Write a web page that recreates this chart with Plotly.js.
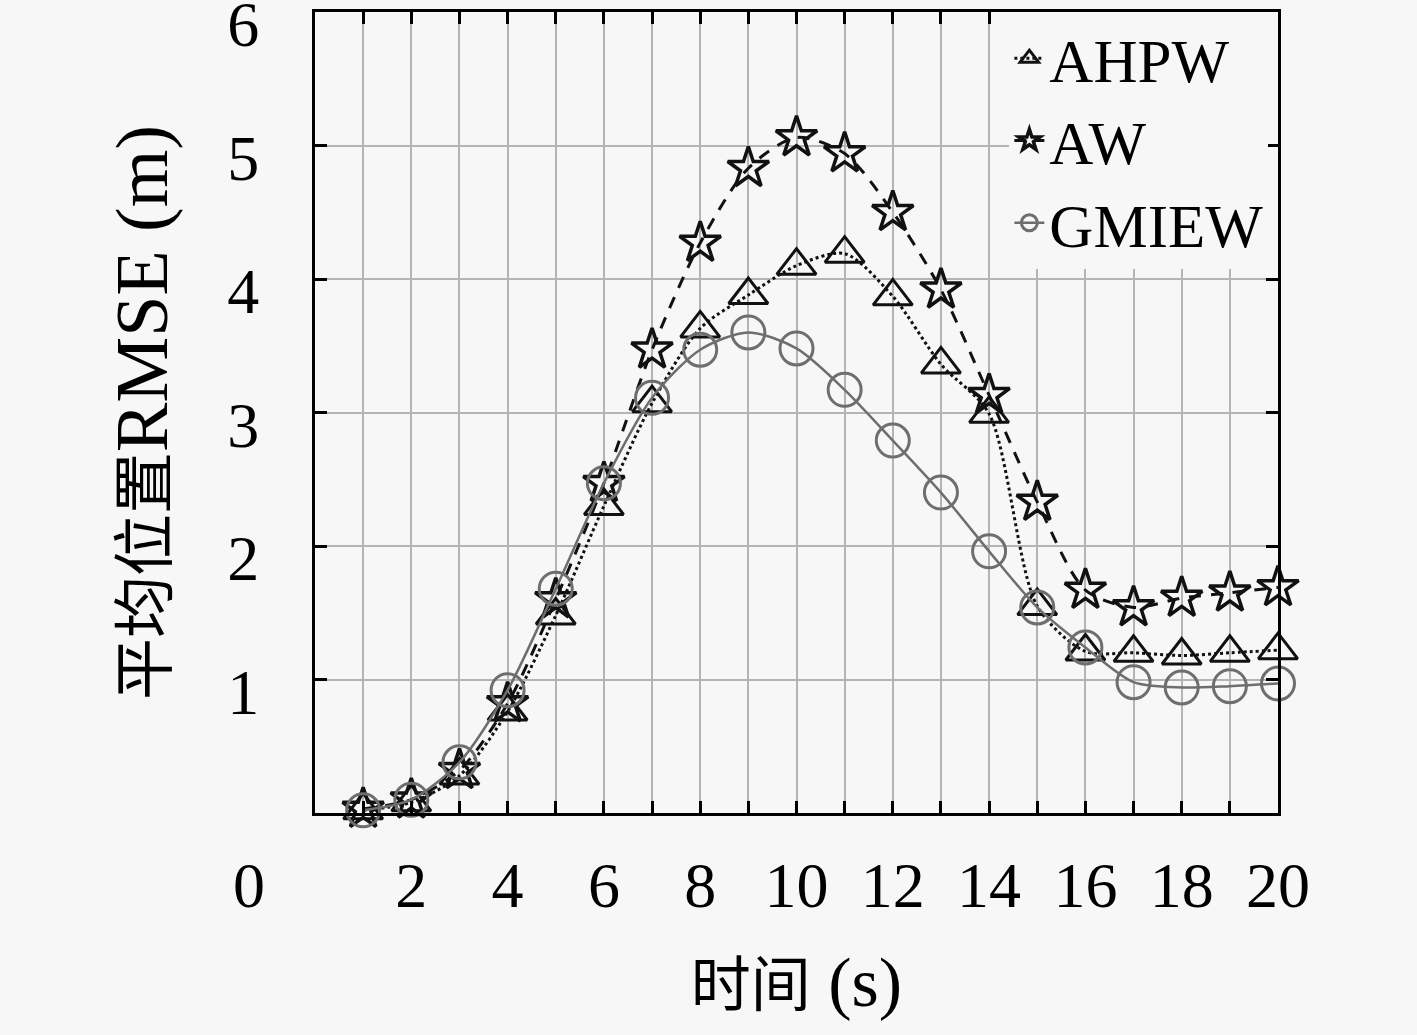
<!DOCTYPE html>
<html>
<head>
<meta charset="utf-8">
<script src="https://cdn.plot.ly/plotly-3.0.1.min.js"></script>
<style>html,body{margin:0;padding:0;background:#f7f7f7;}#chart{width:1417px;height:1035px;}</style>
</head>
<body>
<div id="chart"></div>
<script>
var timeSteps = [1,2,3,4,5,6,7,8,9,10,11,12,13,14,15,16,17,18,19,20];
var ahpwRmse = [0.02,0.08,0.28,0.76,1.48,2.30,3.07,3.63,3.88,4.10,4.19,3.87,3.36,2.99,1.55,1.21,1.20,1.18,1.20,1.22];
var awRmse = [0.03,0.10,0.32,0.82,1.60,2.47,3.47,4.27,4.83,5.06,4.94,4.50,3.92,3.13,2.33,1.67,1.54,1.61,1.65,1.69];
var gmiewRmse = [0.02,0.10,0.38,0.92,1.68,2.47,3.11,3.47,3.60,3.48,3.17,2.79,2.40,1.96,1.54,1.24,0.98,0.94,0.95,0.97];
var xTickVals = [1,2,3,4,5,6,7,8,9,10,11,12,13,14,15,16,17,18,19,20];
var xTickText = ['','2','','4','','6','','8','','10','','12','','14','','16','','18','','20'];
var yTickVals = [1,2,3,4,5,6];
var yTickText = ['1','2','3','4','5','6'];

var FONT = 'Liberation Serif, "Noto Sans CJK SC", serif';

var traces = [
  {x: timeSteps, y: ahpwRmse, name: 'AHPW', type: 'scatter', mode: 'lines+markers', cliponaxis: false,
   line: {color: '#111', width: 3, dash: 'dot', shape: 'spline', smoothing: 0.8},
   marker: {symbol: 'triangle-up-open', size: 34, color: '#111', line: {width: 3, color: '#111'}}},
  {x: timeSteps, y: awRmse, name: 'AW', type: 'scatter', mode: 'lines+markers', cliponaxis: false,
   line: {color: '#111', width: 3, dash: '12px,10px', shape: 'spline', smoothing: 0.8},
   marker: {symbol: 'star-open', size: 31, color: '#111', line: {width: 3.5, color: '#111'}}},
  {x: timeSteps, y: gmiewRmse, name: 'GMIEW', type: 'scatter', mode: 'lines+markers', cliponaxis: false,
   line: {color: '#6e6e6e', width: 2.5, shape: 'spline', smoothing: 0.8},
   marker: {symbol: 'circle-open', size: 33, color: '#6e6e6e', line: {width: 3, color: '#6e6e6e'}}}
];

var layout = {
  width: 1417, height: 1035,
  paper_bgcolor: '#f7f7f7', plot_bgcolor: '#f7f7f7',
  margin: {l: 315, r: 139, t: 12, b: 222},
  font: {family: FONT, color: '#000', size: 64},
  showlegend: true,
  legend: {x: 0.99, y: 1.0, xanchor: 'right', yanchor: 'top', bgcolor: '#f7f7f7',
           borderwidth: 0, font: {family: FONT, size: 61, color: '#000'}, tracegroupgap: 0},
  xaxis: {range: [0, 20], tickmode: 'array', tickvals: xTickVals, ticktext: xTickText,
          showgrid: true, gridcolor: '#b4b4b4', gridwidth: 2,
          ticks: 'inside', ticklen: 12, tickwidth: 3, tickcolor: '#000',
          showline: true, linecolor: '#000', linewidth: 3, mirror: 'ticks',
          zeroline: false, ticklabelstandoff: 14, ticklabeloverflow: 'allow',
          tickfont: {family: FONT, size: 64, color: '#000'},
          title: {text: '时间<span style="font-size:70px"> (s)</span>', font: {family: FONT, size: 60, color: '#000'}, standoff: 45}},
  yaxis: {range: [0, 6], tickmode: 'array', tickvals: yTickVals, ticktext: yTickText,
          showgrid: true, gridcolor: '#b4b4b4', gridwidth: 2,
          ticks: 'inside', ticklen: 12, tickwidth: 3, tickcolor: '#000',
          showline: true, linecolor: '#000', linewidth: 3, mirror: 'ticks',
          zeroline: false, ticklabelstandoff: 40, ticklabeloverflow: 'allow', ticklabelshift: 12,
          tickfont: {family: FONT, size: 64, color: '#000'},
          title: {text: '平均位置<span style="font-size:74px">RMSE (m)</span>', font: {family: FONT, size: 62, color: '#000'}, standoff: 40}},
  annotations: [
    {xref: 'paper', yref: 'paper', x: -0.069, y: -0.09, xanchor: 'center', yanchor: 'middle',
     text: '0', showarrow: false, font: {family: FONT, size: 64, color: '#000'}}
  ]
};

Plotly.newPlot('chart', traces, layout, {displayModeBar: false});
</script>
</body>
</html>
